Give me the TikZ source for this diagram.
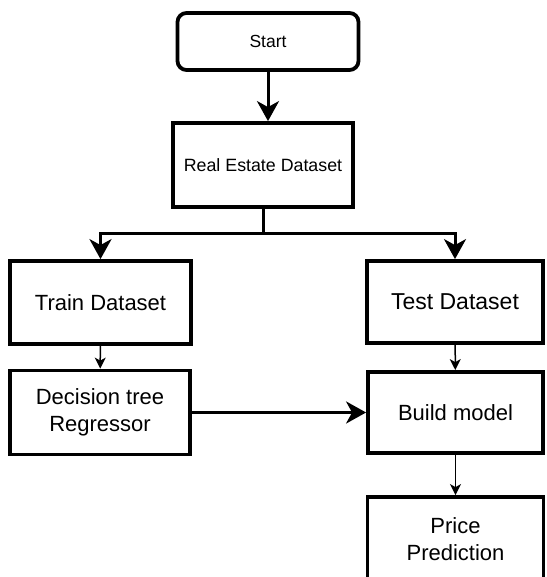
\documentclass[tikz,border=0pt]{standalone}
\usepackage{fontspec}
\setmainfont{Liberation Sans}
\usepackage{tikz}
\usetikzlibrary{arrows.meta}

\begin{document}
\begin{tikzpicture}[x=1pt, y=-1pt,
    box/.style={draw, line width=3.8, align=center, inner sep=0pt,
      font=\fontsize{22}{27}\selectfont},
    bigarrow/.style={line width=3, -{Stealth[length=20pt, width=22pt, inset=6pt]}},
    smallarrow/.style={line width=1.5, -{Stealth[length=11pt, width=11pt, inset=3pt]}}]
  \useasboundingbox (0, 0) rectangle (546, 577);

  % Start
  \node [box, rounded corners=9pt, minimum width=181, minimum height=57,
    font=\fontsize{17.5}{21}\selectfont] (start) at (268, 41.5) {Start};

  % Dataset
  \node [box, minimum width=180, minimum height=84,
    font=\fontsize{17.8}{21}\selectfont] (realestate) at (263, 165) {Real Estate Dataset};
  \draw [bigarrow] (start.south) -- (start.south |- realestate.north);

  % Split
  \node [box, minimum width=181, minimum height=83] (train) at (100.5, 302.5) {Train Dataset};
  \node [box, minimum width=176, minimum height=82,
    font=\fontsize{23}{27}\selectfont] (test) at (455, 302) {Test Dataset};
  \coordinate (split) at (263, 233);
  \draw [line width=3] (realestate.south) -- (split);
  \draw [bigarrow] (split) -| (train.north);
  \draw [bigarrow] (split) -| (test.north);

  % Model
  \node [box, minimum width=180, minimum height=84] (decision) at (100, 412.5) {Decision tree\\Regressor};
  \node [box, minimum width=175, minimum height=81] (build) at (455.5, 412.5) {Build model};
  \draw [smallarrow] (train) -- (decision);
  \draw [smallarrow] (test) -- (build);
  \draw [bigarrow] (decision) -- (build);

  % Prediction
  \node [box, minimum width=176, minimum height=84] (price) at (455.5, 539) {Price\\Prediction};
  \draw [smallarrow] (build) -- (price);
\end{tikzpicture}
\end{document}
